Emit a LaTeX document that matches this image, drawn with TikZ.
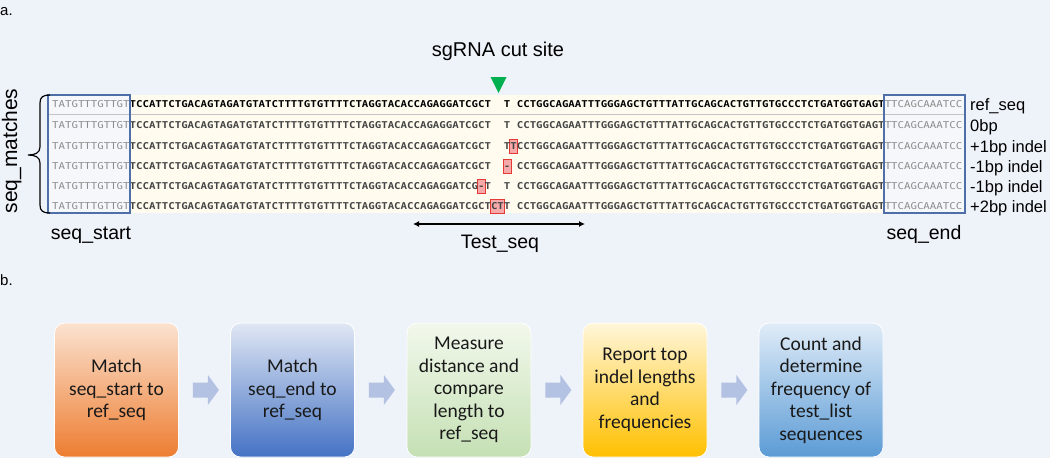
\documentclass[tikz,border=0pt]{standalone}
\usepackage{fontspec}
\usepackage{graphicx}
\setmainfont{Liberation Sans}
\newfontfamily\seqfont{DejaVu Sans Mono}
\newfontfamily\boxfont{Carlito}
\usetikzlibrary{arrows.meta,calc}
\definecolor{bg}{HTML}{EEF2F9}
\definecolor{cream}{HTML}{FFFCEF}
\definecolor{boxin}{HTML}{F5F7FA}
\definecolor{frameblue}{HTML}{4F6FA8}
\definecolor{seqgray}{HTML}{8C8C8C}
\definecolor{seqdark}{HTML}{454545}
\definecolor{sepgray}{HTML}{C4C4C4}
\definecolor{hlfill}{HTML}{F6A9A9}
\definecolor{hlred}{HTML}{E53935}
\definecolor{cutgreen}{HTML}{00B050}
\definecolor{arrowc}{HTML}{B3C1E2}
\definecolor{oTop}{HTML}{FBE2D0}
\definecolor{oBot}{HTML}{ED7D31}
\definecolor{bTop}{HTML}{E0E7F4}
\definecolor{bBot}{HTML}{4472C4}
\definecolor{gTop}{HTML}{F2F8EC}
\definecolor{gBot}{HTML}{C5E0B4}
\definecolor{yTop}{HTML}{FFF6DA}
\definecolor{yBot}{HTML}{FFC000}
\definecolor{lTop}{HTML}{E0ECF8}
\definecolor{lBot}{HTML}{5B9BD5}
\newcommand\ph{\phantom{T}}
\newcommand\seqrow[2]{\scalebox{1}[0.88]{\seqfont\fontsize{10.72}{12}\selectfont\textcolor{seqgray}{TATGTTTGTTGT}{\bfseries\color{#1}#2}\textcolor{seqgray}{TTCAGCAAATCC}}}
\newcommand\rightpart{CCTGGCAGAATTTGGGAGCTGTTTATTGCAGCACTGTTGTGCCCTCTGATGGTGAGT}
\newcommand\leftpart{TCCATTCTGACAGTAGATGTATCTTTTGTGTTTTCTAGGTACACCAGAGGATC}
\begin{document}
\begin{tikzpicture}[x=1pt,y=1pt,
  lbl/.style={font=\fontsize{19.5}{22}\selectfont, inner sep=0pt},
  rowlbl/.style={font=\fontsize{16.5}{19}\selectfont, anchor=base west, inner sep=0pt},
  seqrow/.style={anchor=base west, inner sep=0pt},
  hlbox/.style={fill=hlfill, draw=hlred, line width=0.9pt},
  frame/.style={draw=frameblue, line width=1.2pt},
  stepbox/.style={minimum width=124pt, minimum height=134pt, rounded corners=10pt, draw=white, line width=0.8pt, align=center, font=\boxfont\fontsize{19.5}{22.5}\selectfont, inner sep=2pt, text=black!90},
  barrow/.style={fill=arrowc}]
\useasboundingbox (0,0) rectangle (1050,-458);
\fill[bg] (0,0) rectangle (1050,-458);
% panel labels
\node[lbl, anchor=base west, font=\fontsize{15}{18}\selectfont] (pa) at (0,-15) {a.};
\node[lbl, anchor=base west, font=\fontsize{15}{18}\selectfont] (pb) at (0,-285) {b.};
% cut site
\node[lbl, anchor=base, font=\fontsize{20}{23}\selectfont] (cut) at (498,-56) {sgRNA cut site};
\fill[cutgreen] (490.5,-77) -- (506.5,-77) -- (498.5,-93) -- cycle;
% alignment band
\fill[cream] (48,-95) rectangle (965,-213);
\fill[boxin] (48,-95) rectangle (130,-213);
\fill[boxin] (884,-95) rectangle (965,-213);
\draw[sepgray, line width=1.5pt] (48,-114.5) -- (965,-114.5);
% highlights
\draw[hlbox] (509.6,-139) rectangle (517.6,-153);
\draw[hlbox] (503.2,-159) rectangle (511.0,-173);
\draw[hlbox] (477.3,-179) rectangle (485.2,-193);
\draw[hlbox] (490.2,-199) rectangle (504.6,-213);
% rows
\node[seqrow] (r1) at (52,-107.4) {\seqrow{black}{\leftpart GCT\ph\ph T\ph\rightpart}};
\node[seqrow] (r2) at (52,-128.9) {\seqrow{seqdark}{\leftpart GCT\ph\ph T\ph\rightpart}};
\node[seqrow] (r3) at (52,-149.4) {\seqrow{seqdark}{\leftpart GCT\ph\ph TT\rightpart}};
\node[seqrow] (r4) at (52,-169.4) {\seqrow{seqdark}{\leftpart GCT\ph\ph-\ph\rightpart}};
\node[seqrow] (r5) at (52,-189.4) {\seqrow{seqdark}{\leftpart G-T\ph\ph T\ph\rightpart}};
\node[seqrow] (r6) at (52,-209.4) {\seqrow{seqdark}{\leftpart GCTCTT\ph\rightpart}};
% frames
\draw[frame] (48,-95) rectangle (130,-213);
\draw[frame] (884,-95) rectangle (965,-213);
% row labels
\node[rowlbl] (l1) at (970,-110) {ref\_seq};
\node[rowlbl] (l2) at (970,-131.5) {0bp};
\node[rowlbl] (l3) at (970,-152) {+1bp indel};
\node[rowlbl] (l4) at (970,-172) {-1bp indel};
\node[rowlbl] (l5) at (970,-192) {-1bp indel};
\node[rowlbl] (l6) at (970,-212) {+2bp indel};
% brace
\draw[line width=1.2pt] (50,-95) .. controls (43,-95) and (40,-97) .. (40,-103) -- (40,-147) .. controls (40,-153) and (35,-155) .. (28,-155) .. controls (35,-155) and (40,-157) .. (40,-163) -- (40,-205) .. controls (40,-211) and (43,-213) .. (50,-213);
\node[lbl, rotate=90, anchor=base, font=\fontsize{21}{24}\selectfont] (sm) at (17,-151) {seq\_matches};
% bottom labels
\node[lbl, anchor=base] (ss) at (91,-239) {seq\_start};
\node[lbl, anchor=base] (se) at (924,-239) {seq\_end};
\node[lbl, anchor=base] (ts) at (500,-248) {Test\_seq};
\coordinate (tsl) at (413,-224);
\coordinate (tsr) at (585,-224);
\draw[line width=1.4pt, {Latex[length=6pt,width=6pt]}-{Latex[length=6pt,width=6pt]}] (tsl) -- (tsr);
% part b
\node[stepbox, top color=oTop, bottom color=oBot] (b1) at (116.5,-390) {Match\\seq\_start to\\ref\_seq};
\node[stepbox, top color=bTop, bottom color=bBot] (b2) at (292.5,-390) {Match\\seq\_end to\\ref\_seq};
\node[stepbox, top color=gTop, bottom color=gBot] (b3) at (469,-390) {Measure\\distance and\\compare\\length to\\ref\_seq};
\node[stepbox, top color=yTop, bottom color=yBot] (b4) at (645,-390) {Report top\\indel lengths\\and\\frequencies};
\node[stepbox, top color=lTop, bottom color=lBot] (b5) at (821,-390) {Count and\\determine\\frequency of\\test\_list\\sequences};
\foreach \a in {b1,b2,b3,b4}{
  \fill[barrow] ($(\a.east)+(14,7.5)$) -- ++(15,0) -- ++(0,7.5) -- ++(11,-15) -- ++(-11,-15) -- ++(0,7.5) -- ++(-15,0) -- cycle;
}
\end{tikzpicture}
\end{document}
